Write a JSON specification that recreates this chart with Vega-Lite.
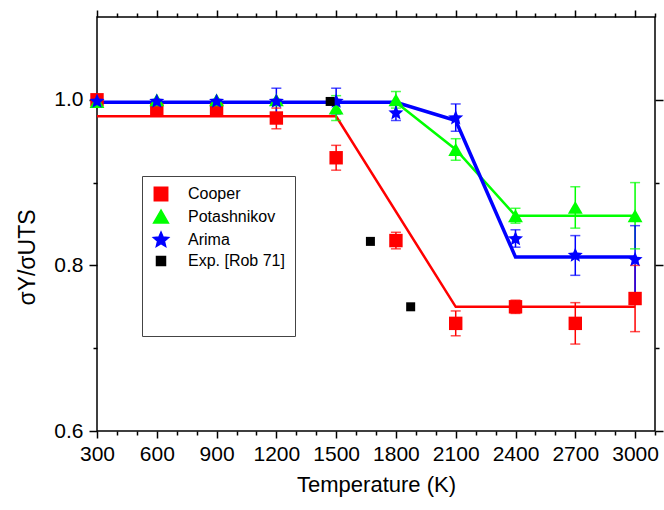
{
  "$schema": "https://vega.github.io/schema/vega-lite/v6.json",
  "autosize": "none",
  "width": 558,
  "height": 414,
  "padding": {"left": 97, "top": 17, "right": 9, "bottom": 79},
  "background": "white",
  "config": {
    "view": {"stroke": "#000", "strokeWidth": 1.5},
    "font": "Liberation Sans",
    "legend": {"symbolOpacity": 1},
    "axis": {"domain": false, "grid": false, "tickColor": "#000", "tickWidth": 1.5, "labelColor": "#000", "titleColor": "#000", "labelFont": "Liberation Sans", "titleFont": "Liberation Sans", "titleFontWeight": "normal"}
  },
  "datasets": {
    "pts": [
      {"series": "Cooper", "T": 300, "v": 1.0},
      {"series": "Cooper", "T": 600, "v": 0.988},
      {"series": "Cooper", "T": 900, "v": 0.988},
      {"series": "Cooper", "T": 1200, "v": 0.978, "lo": 0.965, "hi": 0.99},
      {"series": "Cooper", "T": 1500, "v": 0.93, "lo": 0.915, "hi": 0.945},
      {"series": "Cooper", "T": 1800, "v": 0.83, "lo": 0.82, "hi": 0.84},
      {"series": "Cooper", "T": 2100, "v": 0.73, "lo": 0.715, "hi": 0.745},
      {"series": "Cooper", "T": 2400, "v": 0.75, "lo": 0.742, "hi": 0.758},
      {"series": "Cooper", "T": 2700, "v": 0.73, "lo": 0.705, "hi": 0.755},
      {"series": "Cooper", "T": 3000, "v": 0.76, "lo": 0.72, "hi": 0.8},
      {"series": "Potashnikov", "T": 300, "v": 0.998},
      {"series": "Potashnikov", "T": 600, "v": 1.0},
      {"series": "Potashnikov", "T": 900, "v": 1.0},
      {"series": "Potashnikov", "T": 1200, "v": 1.0},
      {"series": "Potashnikov", "T": 1500, "v": 0.99, "lo": 0.975, "hi": 1.005},
      {"series": "Potashnikov", "T": 1800, "v": 1.0, "lo": 0.99, "hi": 1.01},
      {"series": "Potashnikov", "T": 2100, "v": 0.94, "lo": 0.927, "hi": 0.953},
      {"series": "Potashnikov", "T": 2400, "v": 0.86, "lo": 0.851, "hi": 0.869},
      {"series": "Potashnikov", "T": 2700, "v": 0.87, "lo": 0.845, "hi": 0.895},
      {"series": "Potashnikov", "T": 3000, "v": 0.86, "lo": 0.82, "hi": 0.9},
      {"series": "Arima", "T": 300, "v": 0.998},
      {"series": "Arima", "T": 600, "v": 0.998},
      {"series": "Arima", "T": 900, "v": 0.998},
      {"series": "Arima", "T": 1200, "v": 0.998, "lo": 0.983, "hi": 1.014},
      {"series": "Arima", "T": 1500, "v": 0.998, "lo": 0.983, "hi": 1.014},
      {"series": "Arima", "T": 1800, "v": 0.984, "lo": 0.975, "hi": 0.994},
      {"series": "Arima", "T": 2100, "v": 0.978, "lo": 0.962, "hi": 0.995},
      {"series": "Arima", "T": 2400, "v": 0.832, "lo": 0.822, "hi": 0.843},
      {"series": "Arima", "T": 2700, "v": 0.812, "lo": 0.788, "hi": 0.836},
      {"series": "Arima", "T": 3000, "v": 0.807, "lo": 0.767, "hi": 0.848},
      {"series": "Exp. [Rob 71]", "T": 1470, "v": 0.998},
      {"series": "Exp. [Rob 71]", "T": 1672, "v": 0.829},
      {"series": "Exp. [Rob 71]", "T": 1874, "v": 0.75}
    ],
    "lines": [
      {"series": "Cooper", "T": 300, "v": 0.98},
      {"series": "Cooper", "T": 1500, "v": 0.98},
      {"series": "Cooper", "T": 2100, "v": 0.75},
      {"series": "Cooper", "T": 3000, "v": 0.75},
      {"series": "Potashnikov", "T": 300, "v": 0.997},
      {"series": "Potashnikov", "T": 1800, "v": 0.997},
      {"series": "Potashnikov", "T": 2100, "v": 0.94},
      {"series": "Potashnikov", "T": 2400, "v": 0.86},
      {"series": "Potashnikov", "T": 3000, "v": 0.86},
      {"series": "Arima", "T": 300, "v": 0.997},
      {"series": "Arima", "T": 1800, "v": 0.997},
      {"series": "Arima", "T": 2100, "v": 0.975},
      {"series": "Arima", "T": 2400, "v": 0.81},
      {"series": "Arima", "T": 3000, "v": 0.81}
    ]
  },
  "resolve": {"axis": {"x": "independent", "y": "independent"}},
  "layer": [
    {
      "data": {"name": "lines"},
      "transform": [{"filter": "datum.series === 'Cooper'"}],
      "mark": {"type": "line", "strokeWidth": 2.5, "color": "#ff0000"},
      "encoding": {
        "x": {"field": "T", "type": "quantitative", "scale": {"domain": [300, 3100], "nice": false, "zero": false},
              "axis": {"orient": "bottom", "values": [300,400,500,600,700,800,900,1000,1100,1200,1300,1400,1500,1600,1700,1800,1900,2000,2100,2200,2300,2400,2500,2600,2700,2800,2900,3000,3100], "format": "d", "labelExpr": "datum.value % 300 === 0 ? datum.label : ''", "tickSize": {"condition": {"test": "datum.value % 300 === 0", "value": 7}, "value": 4}, "labelFontSize": 21, "labelPadding": 5, "labelFlush": false, "labelOverlap": false, "title": "Temperature (K)", "titleFontSize": 22, "titlePadding": 10}},
        "y": {"field": "v", "type": "quantitative", "scale": {"domain": [0.6, 1.1], "nice": false, "zero": false},
              "axis": {"orient": "left", "values": [0.6, 0.7, 0.8, 0.9, 1.0], "format": ".1f", "labelExpr": "(datum.value == 0.6 || datum.value == 0.8 || datum.value == 1) ? datum.label : ''", "tickSize": {"condition": {"test": "datum.value == 0.6 || datum.value == 0.8 || datum.value == 1", "value": 8}, "value": 4}, "labelFontSize": 21, "labelPadding": 6, "labelFlush": false, "labelOverlap": false, "title": "σY/σUTS", "titleFontSize": 23, "titlePadding": 14, "titleY": 240}}
      }
    },
    {
      "data": {"name": "lines"},
      "transform": [{"filter": "datum.series === 'Potashnikov'"}],
      "mark": {"type": "line", "strokeWidth": 2.5, "color": "#00ff00"},
      "encoding": {
        "x": {"field": "T", "type": "quantitative",
              "axis": {"orient": "top", "values": [300,400,500,600,700,800,900,1000,1100,1200,1300,1400,1500,1600,1700,1800,1900,2000,2100,2200,2300,2400,2500,2600,2700,2800,2900,3000,3100], "labels": false, "tickSize": {"condition": {"test": "datum.value % 300 === 0", "value": 7}, "value": 4}, "title": null}},
        "y": {"field": "v", "type": "quantitative",
              "axis": {"orient": "right", "values": [0.6, 0.7, 0.8, 0.9, 1.0], "labels": false, "tickSize": {"condition": {"test": "datum.value == 0.6 || datum.value == 0.8 || datum.value == 1", "value": 8}, "value": 4}, "title": null}}
      }
    },
    {
      "data": {"name": "pts"},
      "transform": [{"filter": "isValid(datum.lo)"}],
      "mark": {"type": "rule", "strokeWidth": 1.5},
      "encoding": {
        "x": {"field": "T", "type": "quantitative", "axis": null},
        "y": {"field": "lo", "type": "quantitative", "axis": null},
        "y2": {"field": "hi"},
        "color": {"field": "series", "type": "nominal", "scale": {"domain": ["Cooper", "Potashnikov", "Arima", "Exp. [Rob 71]"], "range": ["#ff0000", "#00ff00", "#0000ff", "#000000"]}}
      }
    },
    {
      "data": {"name": "pts"},
      "transform": [{"filter": "isValid(datum.lo)"}],
      "mark": {"type": "tick", "orient": "horizontal", "size": 10, "thickness": 1.5},
      "encoding": {
        "x": {"field": "T", "type": "quantitative", "axis": null},
        "y": {"field": "hi", "type": "quantitative", "axis": null},
        "color": {"field": "series", "type": "nominal"}
      }
    },
    {
      "data": {"name": "pts"},
      "transform": [{"filter": "isValid(datum.lo)"}],
      "mark": {"type": "tick", "orient": "horizontal", "size": 10, "thickness": 1.5},
      "encoding": {
        "x": {"field": "T", "type": "quantitative", "axis": null},
        "y": {"field": "lo", "type": "quantitative", "axis": null},
        "color": {"field": "series", "type": "nominal"}
      }
    },
    {
      "data": {"name": "lines"},
      "transform": [{"filter": "datum.series === 'Arima'"}],
      "mark": {"type": "line", "strokeWidth": 3.5, "color": "#0000ff"},
      "encoding": {
        "x": {"field": "T", "type": "quantitative", "axis": null},
        "y": {"field": "v", "type": "quantitative", "axis": null}
      }
    },
    {
      "data": {"name": "pts"},
      "mark": {"type": "point", "filled": true, "opacity": 1},
      "encoding": {
        "x": {"field": "T", "type": "quantitative", "axis": null},
        "y": {"field": "v", "type": "quantitative", "axis": null},
        "color": {"field": "series", "type": "nominal",
                  "legend": {"orient": "none", "legendX": 45, "legendY": 159, "title": " ", "titleOrient": "bottom", "titleFontSize": 16, "titlePadding": 41, "strokeColor": "#444", "padding": 10, "labelFontSize": 16, "labelColor": "#000", "labelOffset": 18, "rowPadding": 3, "symbolOpacity": 1,
                             "encode": {"symbols": {"update": {"opacity": {"value": 1}, "fillOpacity": {"value": 1}, "strokeOpacity": {"value": 1}}}}}},
        "shape": {"field": "series", "type": "nominal", "scale": {"domain": ["Cooper", "Potashnikov", "Arima", "Exp. [Rob 71]"], "range": ["square", "triangle-up", "M0,-1L0.265,-0.364L0.951,-0.309L0.428,0.139L0.588,0.809L0,0.45L-0.588,0.809L-0.428,0.139L-0.951,-0.309L-0.265,-0.364Z", "square"]}},
        "size": {"field": "series", "type": "nominal", "scale": {"type": "ordinal", "domain": ["Cooper", "Potashnikov", "Arima", "Exp. [Rob 71]"], "range": [180, 220, 250, 81]}}
      }
    }
  ]
}
